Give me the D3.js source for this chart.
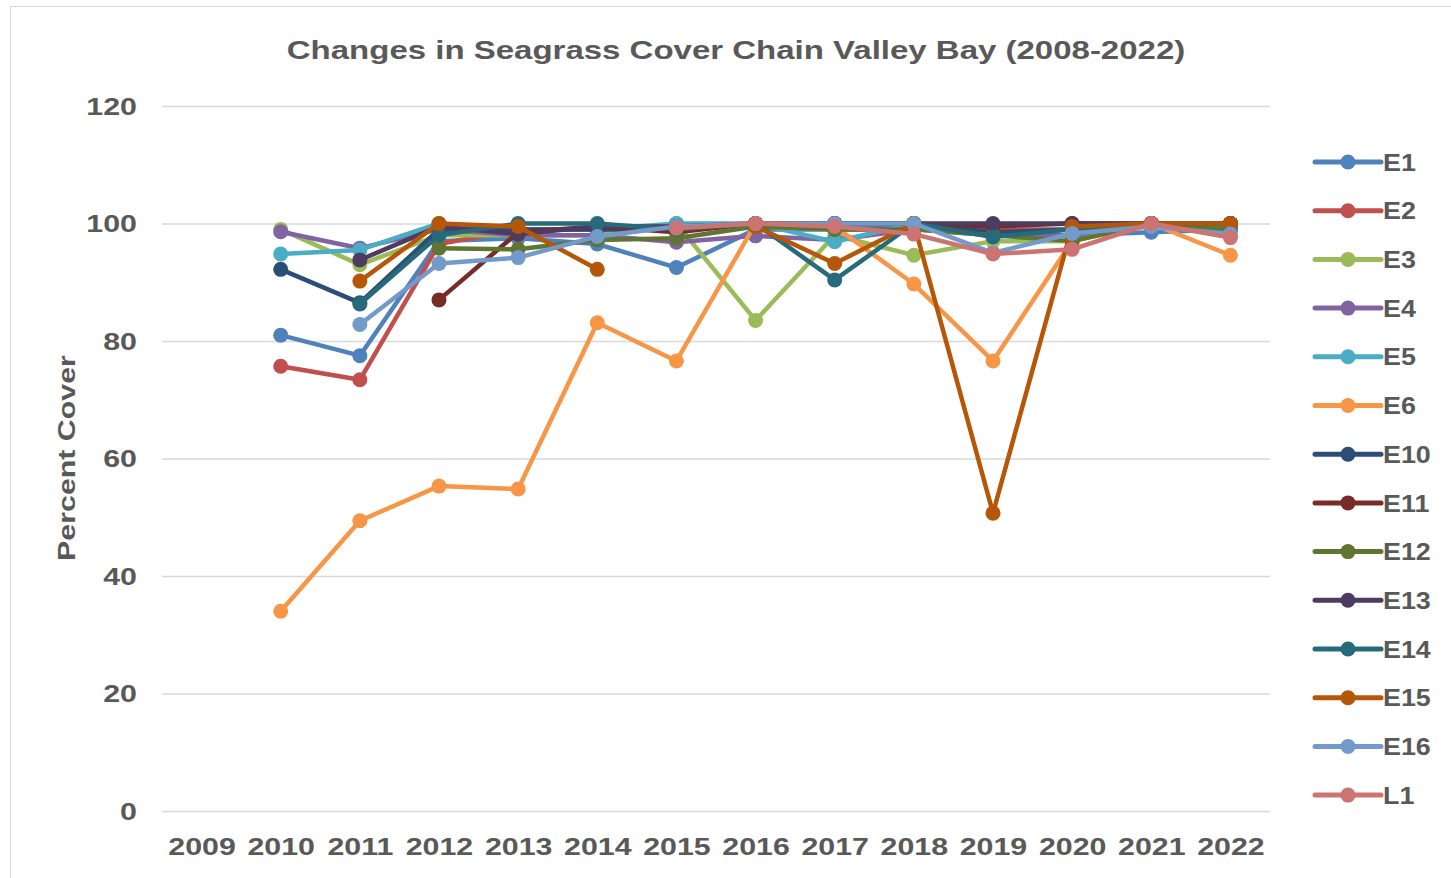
<!DOCTYPE html>
<html>
<head>
<meta charset="utf-8">
<script src="https://cdn.jsdelivr.net/npm/d3@7"></script>
<style>
  body { margin: 0; background: #fff; }
  text { font-family: "Liberation Sans", Arial, sans-serif; font-weight: bold; fill: #595959; }
</style>
</head>
<body>
<svg id="chart" width="1451" height="878"></svg>
<script>
// years on the category axis
var years = [2009, 2010, 2011, 2012, 2013, 2014, 2015, 2016, 2017, 2018, 2019, 2020, 2021, 2022]
var yTicks = [0, 20, 40, 60, 80, 100, 120]

// percent cover per site, null = not surveyed
var E1  = [null, 81, 77.5, 97, 97.5, 96.5, 92.5, 99, 99, 100, 98, 98, 98.5, 99]
var E2  = [null, 75.7, 73.4, 96.5, 99, 99, 99, 100, 99, 99, 99, 99, 100, 99.5]
var E3  = [null, 99, 93, 98, 98, 98, 100, 83.5, 98, 94.6, 97, 97, 100, 99]
var E4  = [null, 98.6, 95.8, 99, 98, 98, 96.8, 97.9, 97.2, 99, 98, 98, 100, 99]
var E5  = [null, 94.8, 95.5, 100, 99, 99, 100, 100, 96.9, 100, 98, 99, 100, 99]
var E6  = [null, 34, 49.4, 55.3, 54.8, 83.1, 76.6, 100, 99.5, 89.7, 76.6, 97, 100, 94.6]
var E10 = [null, 92.2, 86.5, 99, 99, 99, 99, 100, 100, 100, 98.5, 99, 100, 100]
var E11 = [null, null, null, 87, 98.5, 99.5, 98.5, 100, 100, 100, 99.5, 100, 100, 100]
var E12 = [null, null, null, 95.8, 95.6, 97.2, 97.5, 99.5, 99, 99, 98, 97, 100, 99]
var E13 = [null, null, 93.8, 99.5, 98.2, 99.5, 99.5, 100, 100, 100, 100, 100, 100, 100]
var E14 = [null, null, 86.3, 98, 100, 100, 99, 100, 90.4, 100, 97.7, 99, 100, 100]
var E15 = [null, null, 90.2, 100, 99.5, 92.2, null, 99.5, 93.2, 100, 50.7, 99.5, 100, 100]
var E16 = [null, null, 82.8, 93.2, 94.2, 97.8, 99.5, 100, 100, 100, 95, 98.3, 99.5, 98.2]
var L1  = [null, null, null, null, null, null, 99.2, 100, 99.5, 98.2, 94.8, 95.6, 100, 97.6]

var seriesNames = ['E1', 'E2', 'E3', 'E4', 'E5', 'E6', 'E10', 'E11', 'E12', 'E13', 'E14', 'E15', 'E16', 'L1']
var seriesValues = [E1, E2, E3, E4, E5, E6, E10, E11, E12, E13, E14, E15, E16, L1]
var seriesColors = ['#4f81bd', '#c0504d', '#9bbb59', '#8064a2', '#4bacc6', '#f79646', '#2c4d75',
  '#772c2a', '#5f7530', '#4d3b62', '#276a7c', '#b65708', '#729aca', '#cd7371']

// the reference text is drawn wide, so stretch it sideways
var stretch = 1.32

var svg = d3.select('#chart')

// chart frame
svg.append('rect')
  .attr('x', 10.5).attr('y', 6.5)
  .attr('width', 1460).attr('height', 900)
  .attr('fill', 'none')
  .attr('stroke', '#d9d9d9')

var x = d3.scalePoint()
  .domain(years)
  .range([162, 1270])
  .padding(0.5)

var y = d3.scaleLinear()
  .domain([0, 120])
  .range([811, 106])

// gridlines
svg.append('g')
  .selectAll('line')
  .data(yTicks)
  .join('line')
  .attr('x1', 162).attr('x2', 1270)
  .attr('y1', function(d) { return y(d) + 0.5 })
  .attr('y2', function(d) { return y(d) + 0.5 })
  .attr('stroke', '#d9d9d9')
  .attr('stroke-width', 1.5)

var yAxis = svg.append('g')
  .attr('transform', 'translate(137,0)')
  .call(d3.axisLeft(y).tickValues(yTicks).tickSize(0).tickPadding(0))
yAxis.select('.domain').remove()
yAxis.selectAll('text')
  .attr('font-size', '23px')
  .attr('dy', '0.36em')
  .attr('transform', 'scale(' + stretch + ',1)')

var xAxis = svg.append('g')
  .attr('transform', 'translate(0,847)')
  .call(d3.axisBottom(x).tickSize(0).tickPadding(0).tickFormat(d3.format('d')))
xAxis.select('.domain').remove()
xAxis.selectAll('text')
  .attr('font-size', '23px')
  .attr('dy', '0.36em')
  .attr('transform', 'scale(' + stretch + ',1)')

svg.append('text')
  .attr('transform', 'translate(736,50) scale(' + stretch + ',1)')
  .attr('dy', '0.36em')
  .attr('text-anchor', 'middle')
  .attr('font-size', '25px')
  .text('Changes in Seagrass Cover Chain Valley Bay (2008-2022)')

svg.append('text')
  .attr('transform', 'translate(67,458) rotate(-90) scale(' + stretch + ',1)')
  .attr('dy', '0.36em')
  .attr('text-anchor', 'middle')
  .attr('font-size', '23px')
  .text('Percent Cover')

var line = d3.line()
  .defined(function(d) { return d[1] !== null })
  .x(function(d) { return x(d[0]) })
  .y(function(d) { return y(d[1]) })

var plot = svg.append('g')

seriesValues.forEach(function(vals, i) {
  var pts = years.map(function(yr, j) { return [yr, vals[j]] })
  var g = plot.append('g')
  g.append('path')
    .attr('d', line(pts))
    .attr('fill', 'none')
    .attr('stroke', seriesColors[i])
    .attr('stroke-width', 4.5)
    .attr('stroke-linejoin', 'round')
  g.selectAll('circle')
    .data(pts.filter(function(d) { return d[1] !== null }))
    .join('circle')
    .attr('cx', function(d) { return x(d[0]) })
    .attr('cy', function(d) { return y(d[1]) })
    .attr('r', 7.5)
    .attr('fill', seriesColors[i])
})

// legend
var legend = svg.append('g')
  .selectAll('g')
  .data(seriesNames)
  .join('g')
  .attr('transform', function(d, i) { return 'translate(1315,' + (162 + i * 48.7) + ')' })

legend.append('line')
  .attr('x1', 0).attr('x2', 66)
  .attr('stroke', function(d, i) { return seriesColors[i] })
  .attr('stroke-width', 5)
  .attr('stroke-linecap', 'round')
legend.append('circle')
  .attr('cx', 33)
  .attr('r', 7.5)
  .attr('fill', function(d, i) { return seriesColors[i] })
legend.append('text')
  .attr('transform', 'translate(68,0) scale(1.12,1)')
  .attr('dy', '0.36em')
  .attr('font-size', '24px')
  .text(function(d) { return d })
</script>
</body>
</html>
